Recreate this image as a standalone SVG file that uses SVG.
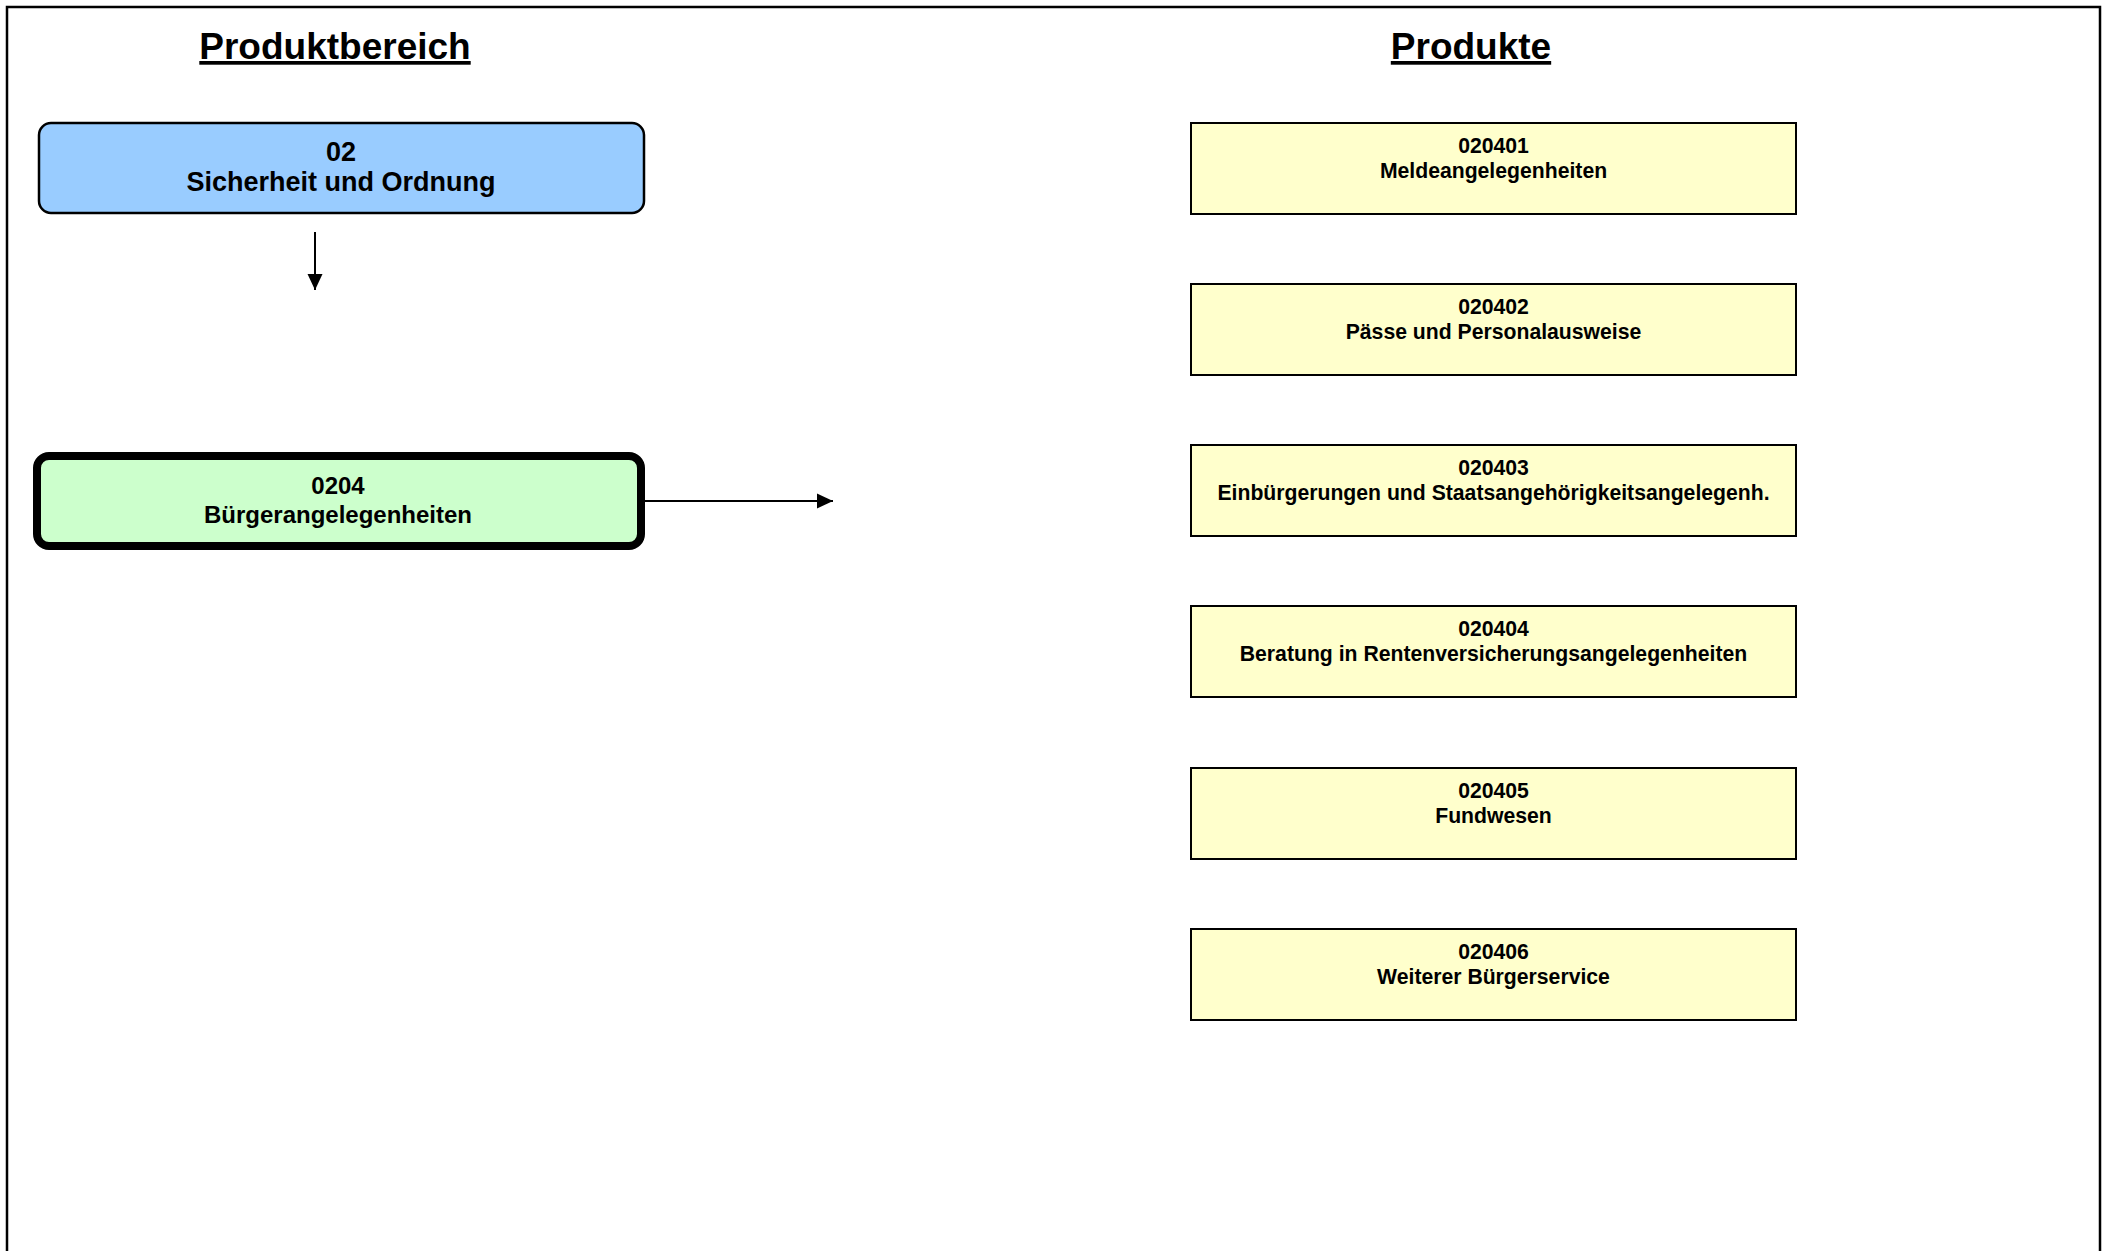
<svg xmlns="http://www.w3.org/2000/svg" width="2107" height="1251" viewBox="0 0 2107 1251">
<style>
text{font-family:"Liberation Sans",Arial,sans-serif;font-weight:bold;fill:#000;text-anchor:middle}
.title{font-size:37px;text-decoration:underline}
.big{font-size:27px}
.mid{font-size:24px}
.small{font-size:21.2px}
.prod{fill:#FFFFCC;stroke:#000;stroke-width:2}
.conn{stroke:#000;stroke-width:2;fill:none}
</style>
<defs>
<marker id="arr" viewBox="0 0 16 16" refX="16" refY="8" markerWidth="16" markerHeight="16" markerUnits="userSpaceOnUse" orient="auto">
<path d="M0,0.5 L16,8 L0,15.5 Z" fill="#000"/>
</marker>
</defs>
<rect x="0" y="0" width="2107" height="1251" fill="#fff"/>
<rect x="7" y="7" width="2093" height="1260" fill="none" stroke="#000" stroke-width="2.5"/>
<text class="title" x="335" y="59">Produktbereich</text>
<text class="title" x="1471" y="59">Produkte</text>
<g id="node-02">
<rect x="39" y="123" width="605" height="90" rx="12" fill="#99CCFF" stroke="#000" stroke-width="2.5"/>
<text class="big" x="341" y="161">02</text>
<text class="big" x="341" y="191">Sicherheit und Ordnung</text>
</g>
<g id="node-0204">
<rect x="37" y="456" width="604" height="90" rx="12" fill="#CCFFCC" stroke="#000" stroke-width="8"/>
<text class="mid" x="338" y="494">0204</text>
<text class="mid" x="338" y="523">Bürgerangelegenheiten</text>
</g>
<g id="node-020401">
<rect class="prod" x="1191" y="123" width="605" height="91"/>
<text class="small" x="1493.5" y="153">020401</text>
<text class="small" x="1493.5" y="178">Meldeangelegenheiten</text>
</g>
<g id="node-020402">
<rect class="prod" x="1191" y="284" width="605" height="91"/>
<text class="small" x="1493.5" y="314">020402</text>
<text class="small" x="1493.5" y="339">Pässe und Personalausweise</text>
</g>
<g id="node-020403">
<rect class="prod" x="1191" y="445" width="605" height="91"/>
<text class="small" x="1493.5" y="475">020403</text>
<text class="small" x="1493.5" y="500">Einbürgerungen und Staatsangehörigkeitsangelegenh.</text>
</g>
<g id="node-020404">
<rect class="prod" x="1191" y="606" width="605" height="91"/>
<text class="small" x="1493.5" y="636">020404</text>
<text class="small" x="1493.5" y="661">Beratung in Rentenversicherungsangelegenheiten</text>
</g>
<g id="node-020405">
<rect class="prod" x="1191" y="768" width="605" height="91"/>
<text class="small" x="1493.5" y="798">020405</text>
<text class="small" x="1493.5" y="823">Fundwesen</text>
</g>
<g id="node-020406">
<rect class="prod" x="1191" y="929" width="605" height="91"/>
<text class="small" x="1493.5" y="959">020406</text>
<text class="small" x="1493.5" y="984">Weiterer Bürgerservice</text>
</g>
<g id="connectors">
<line class="conn" x1="315" y1="232" x2="315" y2="290" marker-end="url(#arr)"/>
<line class="conn" x1="645" y1="501" x2="833" y2="501" marker-end="url(#arr)"/>
</g>
</svg>
